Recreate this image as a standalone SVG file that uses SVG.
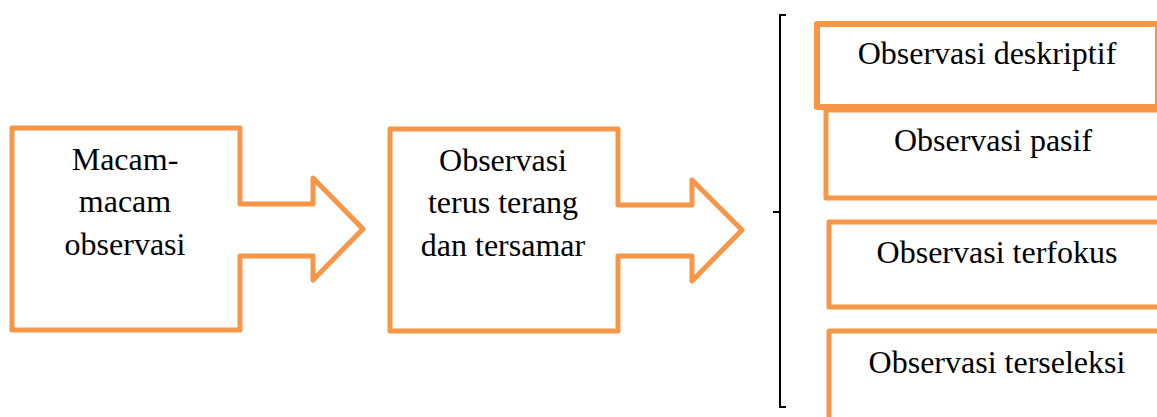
<svg xmlns="http://www.w3.org/2000/svg" width="1157" height="417" viewBox="0 0 1157 417">
  <style>
    .shape { fill: #FFFFFF; stroke: #F79646; stroke-width: 5; stroke-linejoin: round; }
    .thick { stroke-width: 6; }
    .label { font-family: "Liberation Serif", "Times New Roman", serif; font-size: 32px; fill: #000000; text-anchor: middle; }
    .bracket { fill: none; stroke: #000000; stroke-width: 2; }
  </style>
  <rect width="1157" height="417" fill="#FFFFFF"/>

  <!-- block arrow: types of observation -->
  <g id="macam-observasi">
    <path class="shape" d="M12,128 H240 V204 H313 V178 L363,229 L313,280 V256 H240 V330 H12 Z"/>
    <text class="label" x="125" y="170">Macam-</text>
    <text class="label" x="125" y="212">macam</text>
    <text class="label" x="125" y="255">observasi</text>
  </g>

  <!-- block arrow: overt and covert observation -->
  <g id="terus-terang">
    <path class="shape" d="M390,129 H618 V205 H692 V180 L742,230 L692,281 V256 H618 V331 H390 Z"/>
    <text class="label" x="503" y="171">Observasi</text>
    <text class="label" x="503" y="213">terus terang</text>
    <text class="label" x="503" y="256">dan tersamar</text>
  </g>

  <!-- brace grouping the stages -->
  <g id="connectors">
    <path class="bracket" d="M786,15 H780 V407 H786"/>
    <path class="bracket" d="M773,212 H780"/>
  </g>

  <g id="deskriptif">
    <rect class="shape thick" x="817" y="24" width="341" height="83"/>
    <text class="label" x="987" y="64">Observasi deskriptif</text>
  </g>

  <g id="pasif">
    <path class="shape" d="M1165,110 H826 V198 H1165"/>
    <text class="label" x="993" y="151">Observasi pasif</text>
  </g>

  <g id="terfokus">
    <path class="shape" d="M1165,222 H829 V307 H1165"/>
    <text class="label" x="997" y="263">Observasi terfokus</text>
  </g>

  <g id="terseleksi">
    <path class="shape" d="M1165,331 H829 V425"/>
    <text class="label" x="997" y="373">Observasi terseleksi</text>
  </g>
</svg>
